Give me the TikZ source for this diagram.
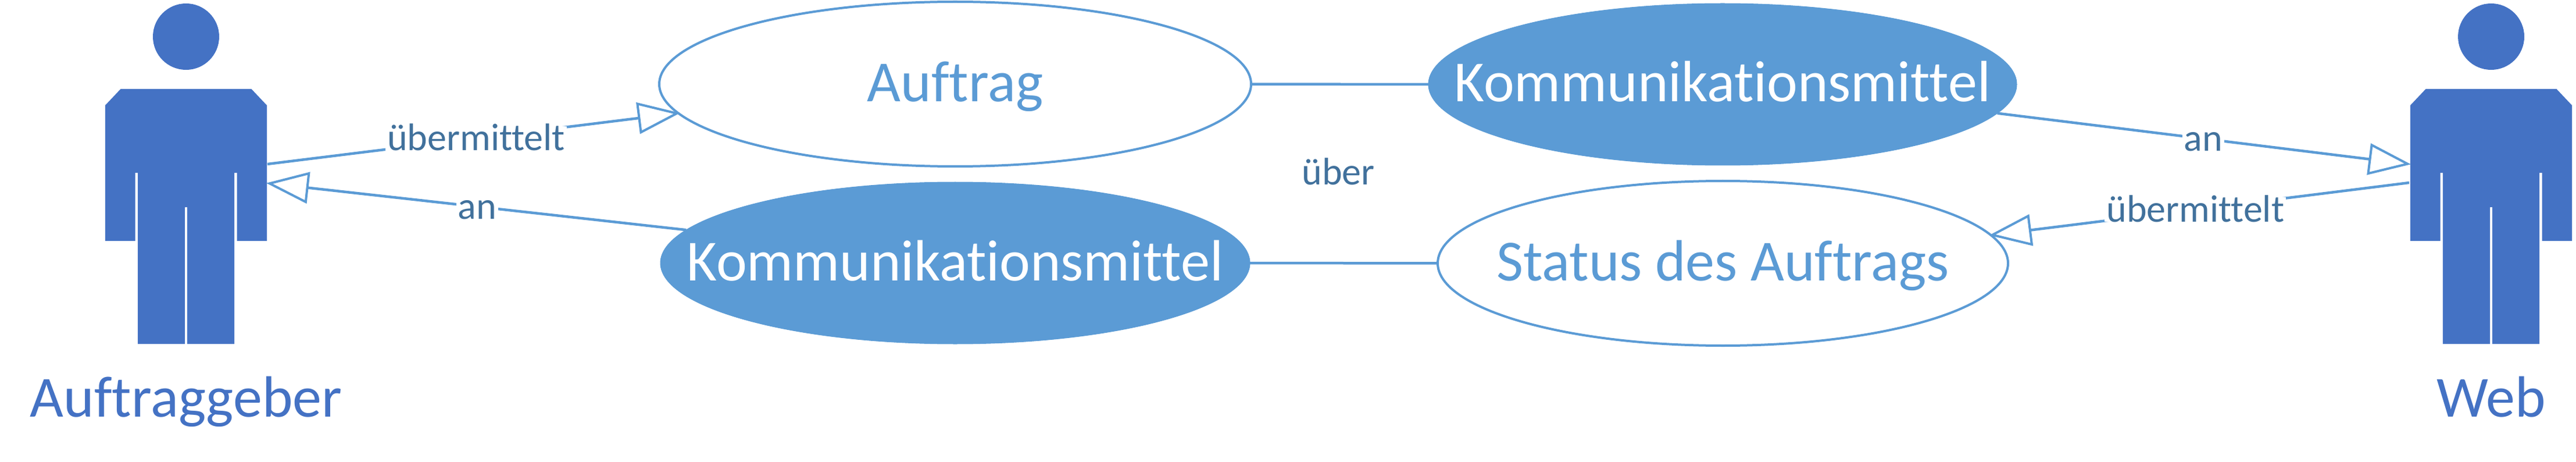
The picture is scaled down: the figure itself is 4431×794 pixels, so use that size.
\documentclass[tikz,border=0pt]{standalone}
\usepackage{fontspec}
\setmainfont[Ligatures=NoCommon]{Carlito}
\usetikzlibrary{arrows.meta,shapes.geometric}
\definecolor{lineblue}{HTML}{5B9BD5}
\definecolor{actorblue}{HTML}{4472C4}
\definecolor{labelblue}{HTML}{41719C}
\tikzset{
  x=1pt,y=-1pt,
  caseopen/.style={ellipse,draw=lineblue,line width=4pt,fill=white,inner sep=0pt,outer sep=0pt},
  casefill/.style={ellipse,draw=lineblue,line width=1pt,fill=lineblue,inner sep=0pt,outer sep=0pt},
  casetext/.style={anchor=base,inner sep=0pt,font=\fontsize{100}{120}\selectfont},
  conn/.style={draw=lineblue,line width=4.5pt},
  opentip/.style={-{Triangle[open,length=73pt,width=54pt,fill=white,line width=4pt]},shorten >=-3pt},
  lab/.style={fill=white,text=labelblue,font=\fontsize{66}{76}\selectfont,inner xsep=3pt,inner ysep=0pt,text height=42pt,text depth=0pt},
  actorname/.style={anchor=base,text=actorblue,font=\fontsize{100}{120}\selectfont,inner sep=0pt},
  actor/.pic={
    \fill[actorblue] (0,63) circle[radius=57];
    \fill[actorblue] (-112.5,153)--(112.5,153)--(139,181)--(139,414)--(87.5,414)--(87.5,297)--(83,297)--(83,591)--(2,591)--(2,356)--(-2,356)--(-2,591)--(-83,591)--(-83,297)--(-87.5,297)--(-87.5,414)--(-139,414)--(-139,181)--cycle;
  }
}
\begin{document}
\begin{tikzpicture}
\useasboundingbox (0,0) rectangle (4431,794);
\pic (leftactor) at (320,0) {actor};
\pic (rightactor) at (4285,0) {actor};
\node[actorname] (auftraggeber) at (320,716) {Auftraggeber};
\node[actorname] (web) at (4285,716) {Web};
\coordinate (leftout) at (460,282);
\coordinate (leftin) at (461,315);
\coordinate (rightin) at (4144,282);
\coordinate (rightout) at (4144,314);
\node[caseopen,minimum width=1018pt,minimum height=283pt] (auftrag) at (1643,144.5) {};
\node[casefill,minimum width=1014pt,minimum height=278pt] (kommL) at (1643,452) {};
\node[casefill,minimum width=1012pt,minimum height=278pt] (kommR) at (2963,145) {};
\node[caseopen,minimum width=981pt,minimum height=283pt] (status) at (2963.5,452.5) {};
\node[casetext,text=lineblue] (auftragtext) at (1643,175) {Auftrag};
\node[casetext,text=white] (kommLtext) at (1643,482) {Kommunikationsmittel};
\node[casetext,text=white] (kommRtext) at (2963,175) {Kommunikationsmittel};
\node[casetext,text=lineblue] (statustext) at (2963.5,482) {Status des Auftrags};
\node[text=labelblue,font=\fontsize{66}{76}\selectfont,anchor=base,inner sep=0pt] (ueber) at (2302,318) {über};
\draw[conn] (auftrag.east) -- (kommR.west);
\draw[conn] (kommL.east) -- (status.west);
\draw[conn,opentip] (leftout) -- node[lab,pos=.508] (l1) {übermittelt} (auftrag.186.7);
\draw[conn,opentip] (kommL.173.3) -- node[lab,pos=.5] (l2) {an} (leftin);
\draw[conn,opentip] (kommR.-6.7) -- node[lab,pos=.5] (l3) {an} (rightin);
\draw[conn,opentip] (rightout) -- node[lab,pos=.511] (l4) {übermittelt} (status.6.8);
\end{tikzpicture}
\end{document}
